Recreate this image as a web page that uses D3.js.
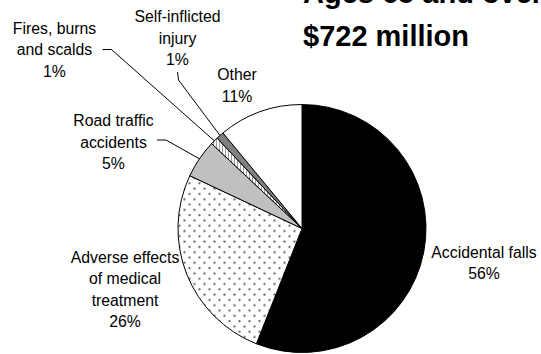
<!DOCTYPE html>
<html>
<head>
<meta charset="utf-8">
<script src="https://cdn.jsdelivr.net/npm/d3@7"></script>
<style>
  html, body { margin: 0; padding: 0; background: #fff; }
  svg { display: block; font-family: "Liberation Sans", Arial, sans-serif; }
</style>
</head>
<body>
<svg id="chart" width="541" height="354"></svg>
<script>
// Injury cost shares, ages 65 and over
const categories = ["Accidental falls", "Adverse effects of medical treatment", "Road traffic accidents",
                    "Fires, burns and scalds", "Self-inflicted injury", "Other"];
const shares = [56, 26, 5, 1, 1, 11];
const labelLines = [
  ["Accidental falls", "56%"],
  ["Adverse effects", "of medical", "treatment", "26%"],
  ["Road traffic", "accidents", "5%"],
  ["Fires, burns", "and scalds", "1%"],
  ["Self-inflicted", "injury", "1%"],
  ["Other", "11%"]
];
const titleLines = ["Ages 65 and over", "$722 million"];

const svg = d3.select("#chart");
const W = 541, H = 354;
const cx = 302, cy = 228.5, R = 124;

// fill patterns
const defs = svg.append("defs");
const dots = defs.append("pattern").attr("id", "dots")
  .attr("patternUnits", "userSpaceOnUse").attr("width", 10).attr("height", 10.6);
dots.append("rect").attr("width", 10).attr("height", 10.6).attr("fill", "#fff");
dots.append("circle").attr("cx", 2.5).attr("cy", 2.5).attr("r", 1.15).attr("fill", "#666");
dots.append("circle").attr("cx", 7.5).attr("cy", 7.8).attr("r", 1.15).attr("fill", "#666");

const stripes = defs.append("pattern").attr("id", "stripes")
  .attr("patternUnits", "userSpaceOnUse").attr("width", 3).attr("height", 4);
stripes.append("rect").attr("width", 3).attr("height", 4).attr("fill", "#fff");
stripes.append("rect").attr("x", 1).attr("width", 1).attr("height", 4).attr("fill", "#999");

const fills = ["#000", "url(#dots)", "#c0c0c0", "url(#stripes)", "#808080", "#fff"];

const pie = d3.pie().sort(null).value(d => d)
  .startAngle(0).endAngle(2 * Math.PI);
const arcs = pie(shares);
const arc = d3.arc().innerRadius(0).outerRadius(R);
const edgeArc = d3.arc().innerRadius(R).outerRadius(R);

const g = svg.append("g").attr("transform", `translate(${cx},${cy})`);
g.selectAll("path.slice").data(arcs).enter().append("path")
  .attr("class", "slice")
  .attr("d", arc)
  .attr("fill", (d, i) => fills[i])
  .attr("stroke", "#000")
  .attr("stroke-width", 1)
  .attr("stroke-linejoin", "round");

// label placement (text center x, first baseline)
const labelPos = [
  { x: 484, y: 257.5 },
  { x: 125, y: 262.5 },
  { x: 113.5, y: 126 },
  { x: 54.5, y: 33.5 },
  { x: 177.5, y: 22 },
  { x: 237, y: 80 }
];
const lineGap = 21.5;

const labels = svg.append("g")
  .attr("font-size", "15.8px").attr("fill", "#000").attr("text-anchor", "middle");
labelLines.forEach((lines, i) => {
  const t = labels.append("text").attr("x", labelPos[i].x).attr("y", labelPos[i].y);
  lines.forEach((s, k) => {
    t.append("tspan").attr("x", labelPos[i].x).attr("dy", k === 0 ? 0 : lineGap).text(s);
  });
});

// leader lines for the thin slices: short stub then a run to the slice edge
const leaders = [
  { i: 2, pts: [[157, 140], [166, 140]] },
  { i: 3, pts: [[102.5, 49.5], [111.5, 49.5]] },
  { i: 4, pts: [[177.5, 72], [178.5, 80]] }
];
leaders.forEach(l => {
  const c = edgeArc.centroid(arcs[l.i]);
  const end = [cx + c[0], cy + c[1]];
  svg.append("path")
    .attr("d", d3.line()([...l.pts, end]))
    .attr("fill", "none").attr("stroke", "#000").attr("stroke-width", 1);
});

// title
const title = svg.append("g").attr("font-size", "29px").attr("font-weight", "bold").attr("fill", "#000");
title.append("text").attr("x", 303).attr("y", 2.5).text(titleLines[0]);
title.append("text").attr("x", 303).attr("y", 45.7).text(titleLines[1]);
</script>
</body>
</html>
